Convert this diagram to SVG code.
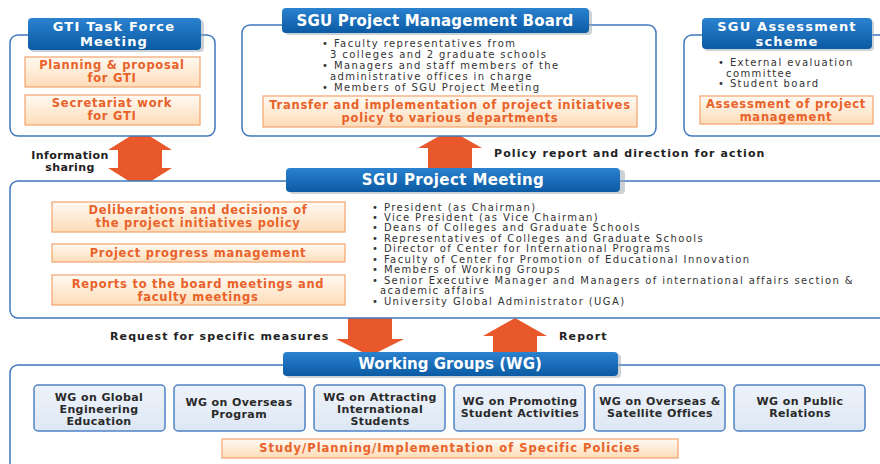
<svg xmlns="http://www.w3.org/2000/svg" width="880" height="464" viewBox="0 0 880 464">
<defs>
<linearGradient id="pill" x1="0" y1="0" x2="0" y2="1"><stop offset="0" stop-color="#2b82cf"/><stop offset="1" stop-color="#0b5aa3"/></linearGradient>
<linearGradient id="org" x1="0" y1="0" x2="0" y2="1"><stop offset="0" stop-color="#fffaf3"/><stop offset="1" stop-color="#fddcb8"/></linearGradient>
<linearGradient id="wg" x1="0" y1="0" x2="0" y2="1"><stop offset="0" stop-color="#eef3fa"/><stop offset="1" stop-color="#dde7f4"/></linearGradient>
</defs>
<style>
.outer{fill:#ffffff;stroke:#3f78bd;stroke-width:1.5}
.pill{fill:url(#pill)}
.shadow{fill:#9aa4ae;opacity:0.5}
.ob{fill:url(#org);stroke:#f2a36e;stroke-width:1.2}
.wgb{fill:url(#wg);stroke:#4f82c2;stroke-width:1.5}
.arr{fill:#e8582a}
text{font-family:"DejaVu Sans","Liberation Sans",sans-serif}
.t{fill:#ffffff;font-weight:bold;font-size:14.5px;text-anchor:middle;letter-spacing:0.4px}
.t2{fill:#ffffff;font-weight:bold;font-size:13px;text-anchor:middle;letter-spacing:1.2px}
.o{fill:#e8622a;font-weight:bold;font-size:11.5px;text-anchor:middle;letter-spacing:0.75px}
.b{fill:#333333;font-size:10px;letter-spacing:1.4px}
.l{fill:#222222;font-weight:bold;font-size:11px;letter-spacing:1.1px}
.w{fill:#2a2a2a;font-weight:bold;font-size:11px;text-anchor:middle;letter-spacing:0.4px}
</style>
<rect width="880" height="464" fill="#ffffff"/>

<g id="connectors">
<polygon class="arr" points="140,130 172,150 162,150 162,168 172,168 140,188 108,168 118,168 118,150 108,150"/>
<polygon class="arr" points="450,130 482,148 472,148 472,170 428,170 428,148 418,148"/>
<polygon class="arr" points="348,318 392,318 392,339 404,339 370,356 336,339 348,339"/>
<polygon class="arr" points="515,318 547,336 537,336 537,353 493,353 493,336 483,336"/>
<text class="l" x="70" y="159" text-anchor="middle" style="letter-spacing:0.4px">Information</text>
<text class="l" x="70" y="171" text-anchor="middle" style="letter-spacing:0.4px">sharing</text>
<text class="l" x="494" y="157">Policy report and direction for action</text>
<text class="l" x="110" y="340">Request for specific measures</text>
<text class="l" x="559" y="340">Report</text>
</g>

<g id="gti">
<rect class="outer" x="10" y="35" width="205" height="101" rx="8"/>
<rect class="shadow" x="30" y="20" width="174" height="32" rx="4"/>
<rect class="pill" x="28" y="18" width="173" height="32" rx="4"/>
<text class="t2" x="114" y="31">GTI Task Force</text>
<text class="t2" x="114" y="46">Meeting</text>
<rect class="ob" x="25" y="57" width="175" height="30"/>
<text class="o" x="112" y="69">Planning &amp; proposal</text>
<text class="o" x="112" y="82">for GTI</text>
<rect class="ob" x="25" y="95" width="175" height="30"/>
<text class="o" x="112" y="107">Secretariat work</text>
<text class="o" x="112" y="120">for GTI</text>
</g>

<g id="board">
<rect class="outer" x="242" y="25" width="414" height="111" rx="8"/>
<rect class="shadow" x="285" y="10" width="307" height="25" rx="4"/>
<rect class="pill" x="282" y="8" width="307" height="25" rx="4"/>
<text class="t" x="435" y="26" style="font-size:15px;letter-spacing:0.2px">SGU Project Management Board</text>
<text class="b" x="322" y="47">• Faculty representatives from</text>
<text class="b" x="330" y="58">3 colleges and 2 graduate schools</text>
<text class="b" x="322" y="69">• Managers and staff members of the</text>
<text class="b" x="330" y="80">administrative offices in charge</text>
<text class="b" x="322" y="91">• Members of SGU Project Meeting</text>
<rect class="ob" x="263" y="96" width="374" height="31"/>
<text class="o" x="450" y="109">Transfer and implementation of project initiatives</text>
<text class="o" x="450" y="122">policy to various departments</text>
</g>

<g id="assessment">
<rect class="outer" x="684" y="35" width="210" height="101" rx="8"/>
<rect class="shadow" x="704" y="20" width="170" height="31" rx="4"/>
<rect class="pill" x="702" y="18" width="170" height="31" rx="4"/>
<text class="t2" x="787" y="31">SGU Assessment</text>
<text class="t2" x="787" y="46">scheme</text>
<text class="b" x="718" y="66">• External evaluation</text>
<text class="b" x="726" y="77">committee</text>
<text class="b" x="718" y="87">• Student board</text>
<rect class="ob" x="700" y="96" width="173" height="28"/>
<text class="o" x="786" y="108">Assessment of project</text>
<text class="o" x="786" y="121">management</text>
</g>

<g id="meeting">
<rect class="outer" x="10" y="181" width="884" height="137" rx="8"/>
<rect class="shadow" x="289" y="170" width="336" height="24" rx="4"/>
<rect class="pill" x="286" y="168" width="334" height="24" rx="4"/>
<text class="t" x="453" y="185" style="font-size:15px">SGU Project Meeting</text>
<rect class="ob" x="52" y="202" width="293" height="30"/>
<text class="o" x="198" y="214">Deliberations and decisions of</text>
<text class="o" x="198" y="227">the project initiatives policy</text>
<rect class="ob" x="52" y="244" width="293" height="18"/>
<text class="o" x="198" y="257">Project progress management</text>
<rect class="ob" x="52" y="275" width="293" height="30"/>
<text class="o" x="198" y="288">Reports to the board meetings and</text>
<text class="o" x="198" y="301">faculty meetings</text>
<text class="b" x="372" y="211">• President (as Chairman)</text>
<text class="b" x="372" y="221">• Vice President (as Vice Chairman)</text>
<text class="b" x="372" y="231">• Deans of Colleges and Graduate Schools</text>
<text class="b" x="372" y="242">• Representatives of Colleges and Graduate Schools</text>
<text class="b" x="372" y="252">• Director of Center for International Programs</text>
<text class="b" x="372" y="263">• Faculty of Center for Promotion of Educational Innovation</text>
<text class="b" x="372" y="273">• Members of Working Groups</text>
<text class="b" x="372" y="284">• Senior Executive Manager and Managers of international affairs section &amp;</text>
<text class="b" x="380" y="294">academic affairs</text>
<text class="b" x="372" y="305">• University Global Administrator (UGA)</text>
</g>

<g id="wg">
<rect class="outer" x="10" y="365" width="884" height="120" rx="8"/>
<rect class="shadow" x="286" y="354" width="335" height="24" rx="4"/>
<rect class="pill" x="283" y="352" width="335" height="24" rx="4"/>
<text class="t" x="450" y="369" style="font-size:15px;letter-spacing:0px">Working Groups (WG)</text>
<g id="wg1"><rect class="wgb" x="34" y="385" width="131" height="46" rx="4"/>
<text class="w" x="99" y="401">WG on Global</text><text class="w" x="99" y="413">Engineering</text><text class="w" x="99" y="425">Education</text></g>
<g id="wg2"><rect class="wgb" x="174" y="385" width="131" height="46" rx="4"/>
<text class="w" x="239" y="406">WG on Overseas</text><text class="w" x="239" y="418">Program</text></g>
<g id="wg3"><rect class="wgb" x="314" y="385" width="131" height="46" rx="4"/>
<text class="w" x="380" y="401">WG on Attracting</text><text class="w" x="380" y="413">International</text><text class="w" x="380" y="425">Students</text></g>
<g id="wg4"><rect class="wgb" x="454" y="385" width="131" height="46" rx="4"/>
<text class="w" x="520" y="405">WG on Promoting</text><text class="w" x="520" y="417">Student Activities</text></g>
<g id="wg5"><rect class="wgb" x="594" y="385" width="131" height="46" rx="4"/>
<text class="w" x="660" y="405">WG on Overseas &amp;</text><text class="w" x="660" y="417">Satellite Offices</text></g>
<g id="wg6"><rect class="wgb" x="734" y="385" width="131" height="46" rx="4"/>
<text class="w" x="800" y="405">WG on Public</text><text class="w" x="800" y="417">Relations</text></g>
<rect class="ob" x="222" y="439" width="456" height="19"/>
<text class="o" x="450" y="452" style="letter-spacing:1px">Study/Planning/Implementation of Specific Policies</text>
</g>
</svg>
